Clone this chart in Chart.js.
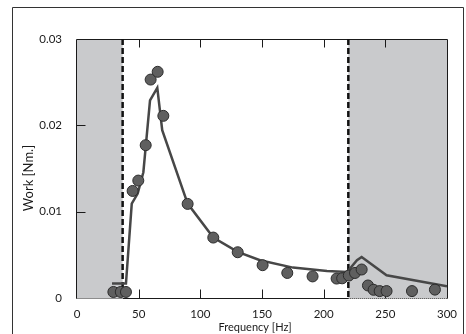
<!DOCTYPE html>
<html>
<head>
<meta charset="utf-8">
<script src="https://cdn.jsdelivr.net/npm/chart.js@4.4.0/dist/chart.umd.min.js"></script>
<style>
  html, body { margin: 0; padding: 0; background: #fff; }
  canvas { display: block; }
</style>
</head>
<body>
<canvas id="work-chart" width="466" height="334"></canvas>
<script>
// measured work per cycle (circles)
const measuredFreq = [29.5, 35.5, 39.7, 45.1, 49.7, 55.7, 59.7, 65.4, 70, 89.7, 110.5, 130.3, 150.5, 170.5, 191, 210.5, 215, 220.4, 225.4, 230.8, 235.9, 240.5, 245.4, 251, 271.6, 290.2];
const measuredWork = [0.0007, 0.0007, 0.0007, 0.0124, 0.0136, 0.0177, 0.0253, 0.0262, 0.0211, 0.0109, 0.0070, 0.0053, 0.0038, 0.0029, 0.0025, 0.00225, 0.00228, 0.0026, 0.0029, 0.0033, 0.00145, 0.00095, 0.0008, 0.0008, 0.0008, 0.00097];

// model curve
const modelFreq = [28.4, 39.7, 44.4, 49.2, 53.8, 59.2, 65.1, 69.1, 89.7, 110.5, 130.3, 148.4, 175.1, 202.7, 219, 227, 230.8, 251, 300];
const modelWork = [0.00167, 0.00167, 0.01094, 0.0121, 0.01457, 0.0229, 0.02434, 0.01943, 0.01094, 0.0070, 0.00535, 0.00437, 0.00352, 0.00313, 0.00301, 0.00437, 0.00475, 0.00263, 0.00136];

// shaded frequency bands (Hz)
const shadedBands = [[0, 37], [220, 300]];

const xTicks = [0, 50, 100, 150, 200, 250, 300];
const yTickLabels = ['0', '0.01', '0.02', '0.03'];

const FONT = 'Lato';
const INK = '#1a1a1a';

const framePlugin = {
  id: 'frame',
  beforeDatasetsDraw(chart) {
    const { ctx, chartArea: a, scales: { x, y } } = chart;
    const L = Math.round(a.left) - 0.5, R = Math.round(a.right) + 0.5;
    const T = Math.round(a.top) + 0.5, B = Math.round(a.bottom) + 0.5;
    ctx.save();

    // grey bands
    ctx.fillStyle = '#c9cacc';
    shadedBands.forEach(([lo, hi]) => {
      const x0 = x.getPixelForValue(lo), x1 = x.getPixelForValue(hi);
      ctx.fillRect(x0, a.top, x1 - x0, a.bottom - a.top);
    });

    // bottom axis: dotted under the bands, solid between them
    ctx.strokeStyle = INK;
    ctx.lineWidth = 1;
    const xa = x.getPixelForValue(shadedBands[0][1]);
    const xb = x.getPixelForValue(shadedBands[1][0]);
    ctx.setLineDash([1, 1]);
    ctx.beginPath();
    ctx.moveTo(L, B); ctx.lineTo(xa, B);
    ctx.moveTo(xb, B); ctx.lineTo(R, B);
    ctx.stroke();
    ctx.setLineDash([]);
    ctx.beginPath();
    ctx.moveTo(xa, B); ctx.lineTo(xb, B);
    // left, top, right
    ctx.moveTo(L, B); ctx.lineTo(L, T); ctx.lineTo(R, T); ctx.lineTo(R, B);
    ctx.stroke();

    // inward tick marks
    ctx.beginPath();
    xTicks.slice(1, -1).forEach(v => {
      const px = Math.round(x.getPixelForValue(v)) + 0.5;
      ctx.moveTo(px, B); ctx.lineTo(px, B - 9);
      ctx.moveTo(px, T); ctx.lineTo(px, T + 8);
    });
    yTickLabels.slice(1, -1).forEach(t => {
      const py = Math.round(y.getPixelForValue(parseFloat(t))) + 0.5;
      ctx.moveTo(L, py); ctx.lineTo(L + 9, py);
    });
    ctx.stroke();

    // dashed band edges
    ctx.strokeStyle = '#111';
    ctx.lineWidth = 2.5;
    ctx.setLineDash([6, 3]);
    ctx.beginPath();
    [xa, xb].forEach(px => { ctx.moveTo(px, a.top); ctx.lineTo(px, a.bottom); });
    ctx.stroke();
    ctx.restore();
  },
  afterDraw(chart) {
    const { ctx, width } = chart;
    ctx.save();
    // outer figure border
    ctx.strokeStyle = '#333';
    ctx.lineWidth = 1;
    ctx.beginPath();
    ctx.moveTo(12.5, chart.height); ctx.lineTo(12.5, 7.5);
    ctx.lineTo(width - 2.5, 7.5); ctx.lineTo(width - 2.5, chart.height);
    ctx.stroke();

    // axis titles
    ctx.fillStyle = INK;
    ctx.textAlign = 'center';
    ctx.textBaseline = 'middle';
    ctx.font = '11px ' + FONT;
    ctx.fillText('Frequency [Hz]', 255, 327);
    ctx.font = '13px ' + FONT;
    ctx.translate(29, 178);
    ctx.rotate(-Math.PI / 2);
    ctx.fillText('Work [Nm.]', 0, 0);
    ctx.restore();
  }
};

new Chart(document.getElementById('work-chart'), {
  type: 'scatter',
  data: {
    datasets: [
      {
        type: 'line',
        label: 'model',
        data: modelFreq.map((f, i) => ({ x: f, y: modelWork[i] })),
        borderColor: '#474747',
        borderWidth: 2.5,
        pointRadius: 0,
        fill: false,
        tension: 0,
        order: 2
      },
      {
        label: 'measured',
        data: measuredFreq.map((f, i) => ({ x: f, y: measuredWork[i] })),
        pointRadius: 5.5,
        pointBackgroundColor: '#5f5f5f',
        pointBorderColor: '#2c2c2c',
        pointBorderWidth: 1,
        order: 1
      }
    ]
  },
  options: {
    responsive: false,
    animation: false,
    devicePixelRatio: 1,
    layout: { padding: { top: 39, right: 19, left: 0, bottom: 0 } },
    plugins: {
      legend: { display: false },
      tooltip: { enabled: false }
    },
    scales: {
      x: {
        type: 'linear',
        min: 0,
        max: 300,
        afterBuildTicks: s => { s.ticks = xTicks.map(v => ({ value: v })); },
        afterFit: s => { s.height = 36; },
        grid: { display: false },
        border: { display: false },
        ticks: {
          padding: 1,
          maxRotation: 0,
          autoSkip: false,
          color: INK,
          font: { family: FONT, size: 11.5 }
        }
      },
      y: {
        type: 'linear',
        min: 0,
        max: 0.03,
        afterBuildTicks: s => { s.ticks = yTickLabels.map(t => ({ value: parseFloat(t) })); },
        afterFit: s => { s.width = 77; },
        grid: { display: false },
        border: { display: false },
        ticks: {
          padding: 7,
          color: INK,
          font: { family: FONT, size: 11.5 },
          callback: (v, i) => yTickLabels[i]
        }
      }
    }
  },
  plugins: [framePlugin]
});
</script>
</body>
</html>
